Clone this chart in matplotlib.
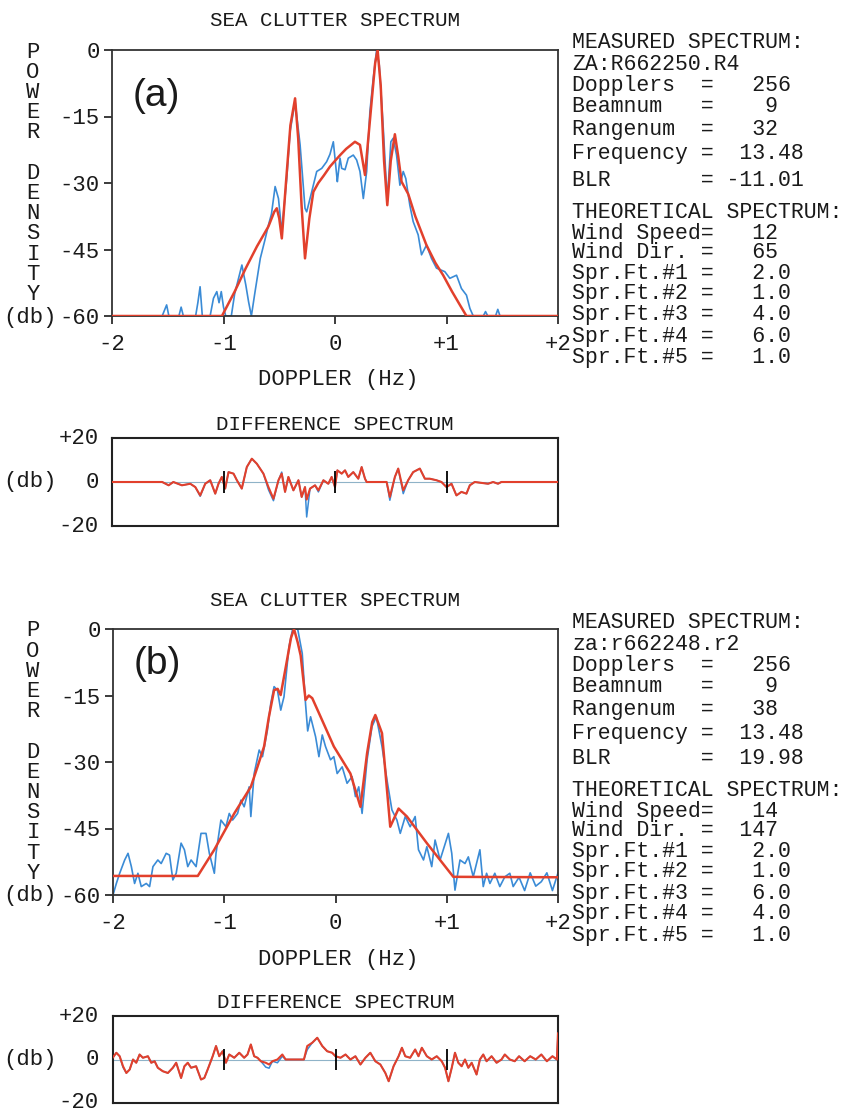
import numpy as np
import matplotlib
matplotlib.use("Agg")
import matplotlib.pyplot as plt

# ---------------- data (Hz, dB) ----------------
doppler_ticks = [-2, -1, 0, 1, 2]
doppler_labels = ['-2', '-1', '0', '+1', '+2']
power_ticks = [0, -15, -30, -45, -60]
power_labels = ['0', '-15', '-30', '-45', '-60']
diff_ticks = [20, 0, -20]
diff_labels = ['+20', '0', '-20']

a_measured = np.array([
    [-2.0, -60], [-1.55, -60], [-1.51, -57.5], [-1.49, -60], [-1.40, -60], [-1.38, -58],
    [-1.36, -60], [-1.25, -60], [-1.23, -57], [-1.21, -53.4], [-1.19, -60], [-1.12, -60],
    [-1.09, -56], [-1.06, -54.5], [-1.04, -57], [-1.02, -54.5], [-1.00, -58], [-0.98, -60],
    [-0.93, -60], [-0.90, -55], [-0.87, -52], [-0.835, -48.5], [-0.80, -53], [-0.775, -56.8],
    [-0.75, -60], [-0.72, -55], [-0.67, -47], [-0.63, -43], [-0.597, -39.5], [-0.57, -37],
    [-0.537, -30.8], [-0.507, -33.5], [-0.477, -41], [-0.455, -35], [-0.433, -29],
    [-0.403, -18.4], [-0.358, -11.6], [-0.313, -21.4], [-0.269, -35.7], [-0.254, -36.5],
    [-0.209, -32], [-0.164, -27.4], [-0.119, -26.7], [-0.075, -25.2], [-0.045, -23.5],
    [-0.015, -20.7], [0.015, -28.2], [0.021, -29.7], [0.045, -24.4], [0.06, -26.7],
    [0.09, -27], [0.119, -24.4], [0.164, -23.7], [0.194, -24.8], [0.224, -27.4],
    [0.254, -33.5], [0.284, -27.4], [0.313, -13.9], [0.343, -6.4], [0.373, 0],
    [0.397, -3.4], [0.433, -17.7], [0.469, -34.2], [0.501, -20.7], [0.522, -19.9],
    [0.552, -23.7], [0.582, -30.5], [0.612, -27.4], [0.635, -29], [0.671, -35],
    [0.701, -38.7], [0.746, -41.7], [0.776, -46.2], [0.821, -44], [0.865, -47],
    [0.91, -49.2], [0.985, -50], [1.03, -51.5], [1.09, -50.8], [1.134, -53.8],
    [1.179, -55.3], [1.21, -58.3], [1.24, -60], [1.33, -60], [1.35, -59], [1.37, -60],
    [1.44, -60], [1.46, -58.5], [1.48, -60], [2.0, -60]])

a_theory = np.array([
    [-2.0, -60], [-1.014, -60], [-0.9, -54.5], [-0.8, -49.2], [-0.7, -44.3], [-0.597, -39.8],
    [-0.545, -36.5], [-0.522, -35.7], [-0.50, -38], [-0.477, -42.5], [-0.44, -30],
    [-0.40, -17], [-0.358, -10.9], [-0.33, -20], [-0.30, -35], [-0.269, -47], [-0.23, -38],
    [-0.194, -32], [-0.15, -30], [-0.10, -28.3], [-0.045, -26.3], [0.0, -25], [0.05, -23.6],
    [0.10, -22.3], [0.179, -20.7], [0.224, -21.4], [0.269, -28.2], [0.32, -14], [0.36, -3],
    [0.382, 0], [0.41, -8], [0.44, -25], [0.469, -35], [0.50, -25], [0.537, -19],
    [0.567, -24], [0.597, -29.7], [0.657, -32.5], [0.72, -37.5], [0.82, -44], [0.90, -48],
    [0.97, -50.8], [1.05, -54.5], [1.12, -57.5], [1.179, -60], [2.0, -60]])

a_diff_red = np.array([
    [-2.0, 0], [-1.55, 0], [-1.492, -1.5], [-1.45, 0], [-1.373, -1.5], [-1.298, -0.8],
    [-1.253, -2.3], [-1.209, -6.1], [-1.164, -0.8], [-1.119, 0.8], [-1.074, -5.3],
    [-1.045, -0.8], [-1.015, 2.3], [-0.985, -3.0], [-0.955, 4.5], [-0.910, 3.8],
    [-0.880, 0.8], [-0.836, -3.0], [-0.791, 6.8], [-0.746, 10.6], [-0.701, 8.3],
    [-0.642, 3.8], [-0.597, -2.3], [-0.552, -7.6], [-0.507, 0.8], [-0.478, 3.8],
    [-0.448, -4.5], [-0.418, 2.3], [-0.373, -3.8], [-0.328, 0.8], [-0.299, -6.8],
    [-0.269, -2.3], [-0.254, -8.0], [-0.224, -3.0], [-0.179, -1.5], [-0.149, -3.8],
    [-0.104, 0.8], [-0.060, -0.8], [-0.030, 2.3], [0.0, -2.3], [0.021, 5.3], [0.060, 3.8],
    [0.090, 5.3], [0.119, 2.3], [0.164, 4.5], [0.209, 1.5], [0.239, 6.8], [0.269, 1.5],
    [0.284, 0], [0.463, 0], [0.492, -6.8], [0.537, 2.3], [0.567, 6.1], [0.612, -3.8],
    [0.656, 0.8], [0.701, 4.5], [0.761, 6.1], [0.806, 1.5], [0.850, 1.5], [0.910, 0.8],
    [0.955, 0], [1.0, -2.3], [1.045, -0.8], [1.089, -6.1], [1.134, -4.5], [1.179, -5.3],
    [1.209, -1.5], [1.253, 0], [1.373, -0.8], [1.418, 0], [1.462, -0.8], [1.492, 0],
    [2.0, 0]])

a_diff_blue = np.array([
    [-2.0, 0], [-1.55, 0], [-1.492, -1.5], [-1.45, 0], [-1.373, -1.5], [-1.298, -0.8],
    [-1.253, -2.3], [-1.209, -6.5], [-1.164, -0.8], [-1.119, 0.8], [-1.074, -5.3],
    [-1.045, -0.8], [-1.015, 2.3], [-0.985, -3.0], [-0.955, 4.5], [-0.910, 3.8],
    [-0.880, 0.8], [-0.836, -3.0], [-0.791, 6.8], [-0.746, 10.6], [-0.701, 8.3],
    [-0.642, 3.8], [-0.597, -3.5], [-0.552, -8.5], [-0.507, 0.8], [-0.478, 4.5],
    [-0.448, -4.5], [-0.418, 2.3], [-0.373, -3.8], [-0.328, 0.8], [-0.299, -6.8],
    [-0.269, -2.3], [-0.254, -15.9], [-0.224, -3.0], [-0.179, -1.5], [-0.149, -4.5],
    [-0.104, 0.8], [-0.060, -0.8], [-0.030, 2.3], [0.0, -2.3], [0.021, 5.3], [0.060, 3.8],
    [0.090, 5.3], [0.119, 2.3], [0.164, 4.5], [0.209, 1.5], [0.239, 6.8], [0.269, 1.5],
    [0.284, 0], [0.463, 0], [0.492, -8.3], [0.537, 2.3], [0.567, 6.1], [0.612, -5.3],
    [0.656, 0.8], [0.701, 4.5], [0.761, 6.1], [0.806, 1.5], [0.850, 1.5], [0.910, 0.8],
    [0.955, 0], [1.0, -2.3], [1.045, -0.8], [1.089, -6.1], [1.134, -4.5], [1.179, -5.3],
    [1.209, -1.5], [1.253, 0], [1.373, -0.8], [1.418, 0], [1.462, -0.8], [1.492, 0],
    [2.0, 0]])

b_measured = np.array([
    [-2.0, -60], [-1.970, -57.4], [-1.940, -55.1], [-1.895, -52.1], [-1.865, -50.6],
    [-1.835, -53.6], [-1.806, -57.4], [-1.776, -55.1], [-1.746, -58.1], [-1.701, -57.4],
    [-1.671, -58.1], [-1.641, -53.6], [-1.597, -52.1], [-1.567, -52.9], [-1.522, -50.6],
    [-1.492, -51.0], [-1.462, -56.6], [-1.432, -55.1], [-1.388, -48.3], [-1.358, -49.8],
    [-1.328, -53.6], [-1.298, -52.1], [-1.253, -53.6], [-1.209, -46.1], [-1.164, -46.1],
    [-1.134, -50.6], [-1.089, -55.1], [-1.074, -50.6], [-1.030, -43.1], [-0.985, -44.6],
    [-0.955, -41.6], [-0.925, -43.1], [-0.880, -41.6], [-0.850, -38.6], [-0.821, -40.1],
    [-0.776, -35.6], [-0.761, -42.3], [-0.731, -32.6], [-0.686, -27.3], [-0.656, -28.8],
    [-0.612, -22.8], [-0.582, -16.8], [-0.552, -13.0], [-0.522, -13.8], [-0.492, -18.3],
    [-0.478, -16.8], [-0.463, -15.3], [-0.418, -4.0], [-0.385, 0], [-0.34, 0],
    [-0.299, -5.5], [-0.269, -17.0], [-0.250, -23.0], [-0.224, -19.8], [-0.179, -24.3],
    [-0.149, -28.8], [-0.119, -23.9], [-0.090, -26.5], [-0.045, -29.5], [-0.015, -28.8],
    [0.015, -32.6], [0.060, -31.1], [0.104, -34.8], [0.149, -33.3], [0.179, -37.8],
    [0.209, -35.6], [0.239, -41.6], [0.284, -29.5], [0.328, -22.0], [0.367, -19.8],
    [0.418, -26.5], [0.463, -34.1], [0.507, -40.8], [0.552, -43.1], [0.582, -46.1],
    [0.627, -42.3], [0.671, -44.6], [0.716, -42.3], [0.746, -49.8], [0.791, -52.1],
    [0.821, -49.1], [0.865, -53.6], [0.895, -47.6], [0.940, -52.1], [1.015, -46.1],
    [1.045, -50.6], [1.074, -58.9], [1.119, -52.1], [1.164, -52.9], [1.194, -51.4],
    [1.238, -55.9], [1.298, -49.8], [1.328, -58.1], [1.358, -55.1], [1.388, -57.4],
    [1.432, -55.1], [1.477, -58.1], [1.522, -55.9], [1.567, -55.1], [1.597, -58.1],
    [1.65, -56], [1.70, -59], [1.75, -55], [1.80, -58], [1.85, -57], [1.90, -55],
    [1.95, -59], [2.0, -55]])

b_theory = np.array([
    [-2.0, -55.7], [-1.238, -55.7], [-1.09, -49.8], [-0.910, -41.6], [-0.761, -35.6],
    [-0.70, -31], [-0.642, -26.5], [-0.60, -20], [-0.552, -13.8], [-0.52, -13.5],
    [-0.493, -14.9], [-0.45, -9], [-0.40, -2], [-0.373, 0], [-0.34, -3], [-0.313, -6],
    [-0.269, -16], [-0.24, -15], [-0.209, -15.6], [-0.134, -19.8], [-0.015, -26.5],
    [0.134, -32.6], [0.224, -40.1], [0.284, -28], [0.33, -21], [0.358, -19.4],
    [0.418, -23.5], [0.492, -44.6], [0.567, -40.5], [0.642, -42.3], [0.821, -48.3],
    [1.059, -55.9], [2.0, -56]])

b_diff_red = np.array([
    [-2.0, 1], [-1.970, 3.1], [-1.940, 1.5], [-1.910, -3.1], [-1.880, -6.2], [-1.850, -4.6],
    [-1.820, 0], [-1.791, -1.5], [-1.761, 2.3], [-1.731, 0.8], [-1.686, 1.5],
    [-1.656, -1.5], [-1.626, -0.8], [-1.597, -3.8], [-1.552, -5.4], [-1.507, -6.2],
    [-1.462, -3.8], [-1.432, -1.5], [-1.388, -8.5], [-1.358, -3.1], [-1.328, -1.5],
    [-1.298, -3.8], [-1.253, -3.1], [-1.209, -9.2], [-1.179, -8.5], [-1.149, -4.6],
    [-1.104, 1.5], [-1.074, 6.2], [-1.045, 1.5], [-1.015, 3.8], [-0.985, -1.5],
    [-0.955, 2.3], [-0.910, 0.8], [-0.865, 3.1], [-0.821, 0.8], [-0.791, 2.3],
    [-0.761, 6.9], [-0.731, 1.5], [-0.701, 0.8], [-0.671, -0.8], [-0.627, -1.5],
    [-0.597, -2.3], [-0.567, -0.8], [-0.522, 0], [-0.478, 2.3], [-0.448, 0], [-0.284, 0],
    [-0.254, 6.2], [-0.209, 7.7], [-0.164, 10.0], [-0.119, 6.2], [-0.075, 3.8],
    [-0.030, 3.1], [0.0, 1.5], [0.045, 0.8], [0.090, 2.3], [0.134, 0], [0.179, 1.5],
    [0.224, -2.3], [0.269, 0.8], [0.313, 3.1], [0.358, -0.8], [0.403, -2.3],
    [0.448, -6.2], [0.478, -10.0], [0.522, -3.1], [0.567, 1.5], [0.597, 5.4],
    [0.627, 1.5], [0.671, 0.8], [0.716, 4.6], [0.746, 1.5], [0.776, 5.4], [0.821, 1.5],
    [0.865, 0], [0.910, 1.5], [0.955, -0.8], [0.985, -3.8], [1.015, -10.0],
    [1.045, -3.8], [1.074, 3.1], [1.104, -1.5], [1.134, -3.1], [1.164, 0], [1.194, -3.8],
    [1.224, -1.5], [1.268, -6.9], [1.298, 0], [1.328, 2.3], [1.358, -0.8], [1.403, 1.5],
    [1.448, -1.5], [1.492, 0], [1.522, 2.3], [1.567, 0], [1.611, -0.8], [1.65, 1.5],
    [1.70, -0.8], [1.75, 1.5], [1.80, 0], [1.85, 2.3], [1.90, -0.8], [1.95, 1.5],
    [1.99, 0], [2.0, 12]])

b_diff_blue = np.array([
    [-2.0, 1], [-1.970, 3.1], [-1.940, 1.5], [-1.910, -3.6], [-1.880, -6.2], [-1.850, -4.6],
    [-1.820, 0], [-1.791, -1.5], [-1.761, 2.3], [-1.731, 0.8], [-1.686, 1.5],
    [-1.656, -1.5], [-1.626, -0.8], [-1.597, -3.8], [-1.552, -5.4], [-1.507, -6.2],
    [-1.462, -3.8], [-1.432, -1.5], [-1.388, -8.5], [-1.358, -3.1], [-1.328, -1.5],
    [-1.298, -3.8], [-1.253, -3.1], [-1.209, -9.2], [-1.179, -8.5], [-1.149, -4.6],
    [-1.104, 1.5], [-1.074, 6.2], [-1.045, 1.5], [-1.015, 3.8], [-0.985, -1.5],
    [-0.955, 2.3], [-0.910, 0.8], [-0.865, 3.1], [-0.821, 0.8], [-0.791, 2.3],
    [-0.761, 6.9], [-0.731, 1.5], [-0.701, 0.8], [-0.671, -0.8], [-0.627, -3.5],
    [-0.597, -4.0], [-0.567, -0.8], [-0.522, -1.5], [-0.478, 1.5], [-0.448, 0],
    [-0.284, 0], [-0.254, 4.5], [-0.209, 7.7], [-0.164, 10.0], [-0.119, 6.2],
    [-0.075, 3.8], [-0.030, 3.1], [0.0, 1.5], [0.045, 0.8], [0.090, 2.3], [0.134, 0],
    [0.179, 1.5], [0.224, -2.3], [0.269, 0.8], [0.313, 3.1], [0.358, -0.8],
    [0.403, -2.3], [0.448, -6.2], [0.478, -10.0], [0.522, -3.1], [0.567, 1.5],
    [0.597, 5.4], [0.627, 1.5], [0.671, 0.8], [0.716, 4.6], [0.746, 1.5], [0.776, 5.4],
    [0.821, 1.5], [0.865, 0], [0.910, 1.5], [0.955, -0.8], [0.985, -3.8],
    [1.015, -10.0], [1.045, -3.8], [1.074, 3.1], [1.104, -1.5], [1.134, -3.1],
    [1.164, 0], [1.194, -3.8], [1.224, -1.5], [1.268, -6.9], [1.298, 0], [1.328, 2.3],
    [1.358, -0.8], [1.403, 1.5], [1.448, -1.5], [1.492, 0], [1.522, 2.3], [1.567, 0],
    [1.611, -0.8], [1.65, 1.5], [1.70, -0.8], [1.75, 1.5], [1.80, 0], [1.85, 2.3],
    [1.90, -0.8], [1.95, 1.5], [1.99, 0], [2.0, 12]])

info_a = ["MEASURED SPECTRUM:", "ZA:R662250.R4",
          "Dopplers  =   256", "Beamnum   =    9", "Rangenum  =   32",
          "Frequency =  13.48", "BLR       = -11.01",
          "THEORETICAL SPECTRUM:", "Wind Speed=   12", "Wind Dir. =   65",
          "Spr.Ft.#1 =   2.0", "Spr.Ft.#2 =   1.0", "Spr.Ft.#3 =   4.0",
          "Spr.Ft.#4 =   6.0", "Spr.Ft.#5 =   1.0"]
info_b = ["MEASURED SPECTRUM:", "za:r662248.r2",
          "Dopplers  =   256", "Beamnum   =    9", "Rangenum  =   38",
          "Frequency =  13.48", "BLR       =  19.98",
          "THEORETICAL SPECTRUM:", "Wind Speed=   14", "Wind Dir. =  147",
          "Spr.Ft.#1 =   2.0", "Spr.Ft.#2 =   1.0", "Spr.Ft.#3 =   6.0",
          "Spr.Ft.#4 =   4.0", "Spr.Ft.#5 =   1.0"]

# ---------------- layout ----------------
W, H = 848, 1115
fig = plt.figure(figsize=(W / 100, H / 100), dpi=100)
fig.patch.set_facecolor('white')

MONO = ['Liberation Mono', 'DejaVu Sans Mono']
SANS = ['Liberation Sans', 'DejaVu Sans']
BLUE = '#3a8bd6'
RED = '#e2402c'
INK = '#1a1a1a'


def fx(x):
    return x / W


def fy(y):
    return 1 - y / H


def axes_px(l, t, r, b):
    return fig.add_axes([l / W, 1 - b / H, (r - l) / W, (b - t) / H])


def ftext(x, y, s, size=16, ha='left', family=MONO, **kw):
    fig.text(fx(x), fy(y), s, fontsize=size, ha=ha, va='center',
             family=family, color=INK, **kw)


def main_panel(box, meas, theo, tag, title_y, info, info_rows, tag_y):
    l, t, r, b = box
    ax = axes_px(l, t, r, b)
    ax.plot(meas[:, 0], meas[:, 1], color=BLUE, lw=1.2, zorder=2)
    ax.plot(theo[:, 0], theo[:, 1], color=RED, lw=1.8, zorder=3)
    ax.set_xlim(-2, 2)
    ax.set_ylim(-60, 0)
    ax.set_xticks(doppler_ticks)
    ax.set_xticklabels(doppler_labels)
    ax.set_yticks(power_ticks)
    ax.set_yticklabels(power_labels)
    for lab in ax.get_xticklabels() + ax.get_yticklabels():
        lab.set_family(MONO)
        lab.set_fontsize(16)
        lab.set_color(INK)
    ax.tick_params(axis='both', direction='out', length=6, width=1.2, color=INK)
    ax.tick_params(axis='y', pad=3)
    ax.tick_params(axis='x', pad=7)
    for sp in ax.spines.values():
        sp.set_linewidth(1.3)
        sp.set_color('#333333')
    ftext((l + r) / 2, title_y, 'SEA CLUTTER SPECTRUM', size=15, ha='center')
    ftext((l + r) / 2 + 3, b + 64, 'DOPPLER (Hz)', size=16, ha='center')
    # stacked axis label
    for i, ch in enumerate('POWER DENSITY'):
        if ch != ' ':
            ftext(33, t + 2 + i * 20.2, ch, size=16, ha='center')
    ftext(57, b + 1, '(db)', size=16, ha='right')
    ftext(l + 21, tag_y, tag, size=28, family=SANS)
    for s, y in zip(info, info_rows):
        ftext(572, y, s, size=15.5)
    return ax


def diff_panel(box, blue, red, title_y):
    l, t, r, b = box
    ax = axes_px(l, t, r, b)
    ax.axhline(0, color='#8fb3c8', lw=0.8, zorder=1)
    ax.plot(blue[:, 0], blue[:, 1], color=BLUE, lw=1.1, zorder=2)
    ax.plot(red[:, 0], red[:, 1], color=RED, lw=1.5, zorder=3)
    ax.vlines([-1, 0, 1], -5, 5, color='black', lw=1.3, zorder=4)
    ax.set_xlim(-2, 2)
    ax.set_ylim(-20, 20)
    ax.set_xticks([])
    ax.set_yticks([])
    for sp in ax.spines.values():
        sp.set_linewidth(1.5)
        sp.set_color('#222222')
    ftext((l + r) / 2, title_y, 'DIFFERENCE SPECTRUM', size=15, ha='center')
    for v, s in zip(diff_ticks, diff_labels):
        yy = t + (20 - v) / 40 * (b - t)
        ftext(99, yy, s, size=16, ha='right')
    ftext(57, (t + b) / 2, '(db)', size=16, ha='right')
    return ax


rows_a = [43, 65, 86, 107, 129, 154, 180, 212, 233, 253, 273, 294, 315, 337, 357]
rows_b = [623, 644, 665, 687, 709, 734, 759, 790, 811, 831, 852, 872, 893, 914, 936]

main_panel((112, 50, 558, 316), a_measured, a_theory, '(a)', 20, info_a, rows_a, 96)
diff_panel((112, 438, 558, 526), a_diff_blue, a_diff_red, 424)
main_panel((113, 629, 558, 895), b_measured, b_theory, '(b)', 601, info_b, rows_b, 664)
diff_panel((113, 1016, 558, 1103), b_diff_blue, b_diff_red, 1002)

fig.savefig('out.png', dpi=100, facecolor='white')
